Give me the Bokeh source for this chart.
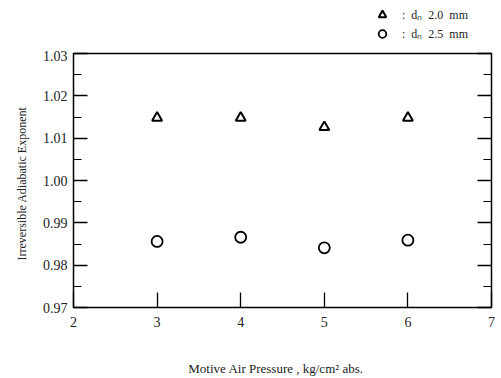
from bokeh.plotting import figure
from bokeh.layouts import column
from bokeh.models import (FixedTicker, LinearAxis, Legend, LegendItem, Range1d)
from bokeh.embed import file_html
from bokeh.resources import INLINE

# Data
pressure = [3, 4, 5, 6]
exp_d20 = [1.0148, 1.0148, 1.0126, 1.0148]
exp_d25 = [0.9856, 0.9866, 0.9841, 0.9859]
y_ticks = [0.97, 0.98, 0.99, 1.00, 1.01, 1.02, 1.03]
y_minor = [0.975, 0.985, 0.995, 1.005, 1.015, 1.025]
y_tick_labels = ["0.97", "0.98", "0.99", "1.00", "1.01", "1.02", "1.03"]
x_ticks = [2, 3, 4, 5, 6, 7]
label_d20 = ":  dₙ  2.0  mm"
label_d25 = ":  dₙ  2.5  mm"
x_title = "Motive  Air  Pressure ,  kg/cm²  abs."
y_title = "Irreversible  Adiabatic  Exponent"

FONT = "Liberation Serif"
TRI_STYLE = dict(marker="triangle", size=10, fill_color="white",
                 line_color="black", line_width=2)
CIR_STYLE = dict(marker="circle", size=11, fill_color="white",
                 line_color="black", line_width=1.8)

# ---- main plot ----
p = figure(width=501, height=328, output_backend="svg", toolbar_location=None,
           x_range=Range1d(2, 7), y_range=Range1d(0.97, 1.03),
           min_border_left=73, min_border_right=10, min_border_top=3,
           min_border_bottom=69, x_axis_location=None, y_axis_location=None)
p.grid.visible = False
p.outline_line_color = "black"
p.outline_line_width = 1.5
p.background_fill_color = "white"
p.border_fill_color = "white"

yl = LinearAxis(ticker=FixedTicker(ticks=y_ticks, minor_ticks=y_minor))
yl.major_label_overrides = {t: s for t, s in zip(y_ticks, y_tick_labels)}
yl.axis_label = y_title
p.add_layout(yl, "left")

yr = LinearAxis(ticker=FixedTicker(ticks=y_ticks, minor_ticks=y_minor))
yr.major_label_text_color = None
yr.major_label_text_font_size = "1px"
p.add_layout(yr, "right")

xb = LinearAxis(ticker=FixedTicker(ticks=x_ticks))
xb.axis_label = x_title
p.add_layout(xb, "below")

for ax in (yl, yr):
    ax.major_tick_in = 14
    ax.major_tick_out = 0
    ax.minor_tick_in = 8
    ax.minor_tick_out = 0
    ax.axis_line_color = None
    ax.major_tick_line_width = 1.3
    ax.minor_tick_line_width = 1.1
xb.major_tick_in = 15
xb.major_tick_out = 0
xb.minor_tick_in = 0
xb.minor_tick_out = 0
xb.axis_line_color = None
xb.major_tick_line_width = 1.3

for ax in (yl, xb):
    ax.major_label_text_font = FONT
    ax.major_label_text_font_size = "14px"
    ax.major_label_text_color = "#222222"
    ax.axis_label_text_font = FONT
    ax.axis_label_text_font_style = "normal"
    ax.axis_label_text_color = "#222222"
yl.major_label_standoff = 6
yl.axis_label_standoff = 11
yl.axis_label_text_font_size = "12px"
xb.major_label_standoff = 9
xb.axis_label_standoff = 31
xb.axis_label_text_font_size = "13px"

p.scatter(pressure, exp_d20, **TRI_STYLE)
p.scatter(pressure, exp_d25, **CIR_STYLE)

# ---- legend strip above the plot (frame aligned with the main plot) ----
top = figure(width=501, height=50, output_backend="svg", toolbar_location=None,
             x_range=Range1d(0, 1), y_range=Range1d(0, 1),
             min_border=0, x_axis_location=None, y_axis_location=None)
top.grid.visible = False
top.outline_line_color = None
top.border_fill_color = "white"
# key renderers share the series data; it lies outside this strip's ranges
tri_key = top.scatter(pressure, exp_d20, **TRI_STYLE)
cir_key = top.scatter(pressure, exp_d25, **CIR_STYLE)
leg = Legend(items=[LegendItem(label=label_d20, renderers=[tri_key]),
                    LegendItem(label=label_d25, renderers=[cir_key])],
             location=(299, 7), padding=0, margin=0, spacing=0,
             glyph_height=19, glyph_width=20, label_height=19,
             label_standoff=10, border_line_color=None,
             background_fill_alpha=0,
             label_text_font=FONT, label_text_font_size="12px",
             label_text_color="#222222")
top.add_layout(leg, "center")

layout = column(top, p, spacing=0)
open("out.html", "w").write(file_html(layout, INLINE))
